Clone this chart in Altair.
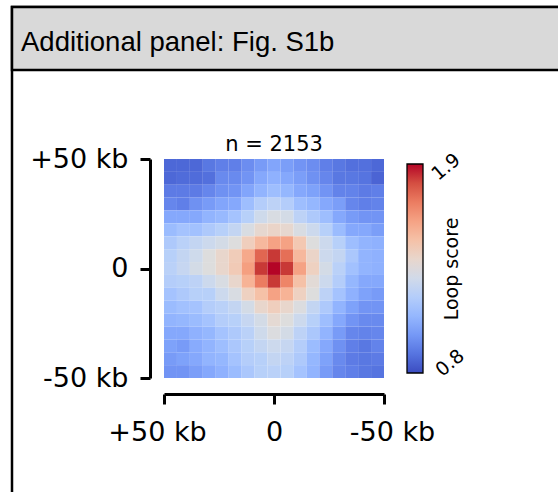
import altair as alt
import numpy as np
import pandas as pd

# Aggregate loop score around 2153 anchors, 17 x 17 bins.
# Rows run from +50 kb (top) to -50 kb (bottom); columns from +50 kb (left) to -50 kb (right).
row_00 = [0.87, 0.87, 0.87, 0.91, 0.93, 0.93, 0.97, 1.01, 1.04, 1.02, 0.99, 0.97, 0.93, 0.91, 0.89, 0.89, 0.87]
row_01 = [0.87, 0.88, 0.88, 0.89, 0.96, 0.96, 0.99, 1.05, 1.08, 1.05, 1.02, 0.98, 0.95, 0.91, 0.91, 0.90, 0.86]
row_02 = [0.92, 0.92, 0.92, 0.95, 0.98, 0.99, 1.04, 1.09, 1.13, 1.10, 1.05, 1.03, 0.99, 0.94, 0.94, 0.92, 0.93]
row_03 = [0.95, 0.93, 0.98, 1.01, 1.04, 1.05, 1.13, 1.20, 1.23, 1.20, 1.13, 1.10, 1.05, 1.02, 0.95, 0.93, 0.94]
row_04 = [1.05, 1.05, 1.05, 1.09, 1.11, 1.15, 1.21, 1.29, 1.33, 1.31, 1.23, 1.18, 1.13, 1.05, 1.01, 0.99, 0.99]
row_05 = [1.12, 1.15, 1.14, 1.18, 1.21, 1.25, 1.33, 1.39, 1.41, 1.39, 1.33, 1.28, 1.21, 1.12, 1.05, 1.05, 1.02]
row_06 = [1.18, 1.22, 1.25, 1.28, 1.31, 1.35, 1.44, 1.53, 1.60, 1.60, 1.47, 1.35, 1.28, 1.21, 1.13, 1.09, 1.08]
row_07 = [1.21, 1.25, 1.29, 1.35, 1.40, 1.45, 1.58, 1.75, 1.84, 1.73, 1.53, 1.41, 1.28, 1.25, 1.17, 1.09, 1.08]
row_08 = [1.22, 1.26, 1.31, 1.35, 1.40, 1.46, 1.61, 1.84, 1.90, 1.84, 1.60, 1.43, 1.31, 1.22, 1.14, 1.09, 1.08]
row_09 = [1.20, 1.21, 1.23, 1.28, 1.33, 1.40, 1.55, 1.70, 1.84, 1.68, 1.50, 1.37, 1.28, 1.20, 1.10, 1.05, 1.05]
row_10 = [1.15, 1.18, 1.21, 1.21, 1.28, 1.33, 1.43, 1.50, 1.60, 1.55, 1.43, 1.35, 1.23, 1.15, 1.08, 1.03, 1.01]
row_11 = [1.12, 1.14, 1.15, 1.20, 1.22, 1.25, 1.31, 1.40, 1.44, 1.40, 1.34, 1.25, 1.18, 1.09, 1.03, 0.99, 0.99]
row_12 = [1.09, 1.10, 1.12, 1.15, 1.20, 1.21, 1.26, 1.31, 1.38, 1.35, 1.28, 1.21, 1.13, 1.05, 0.99, 0.96, 0.96]
row_13 = [1.05, 1.05, 1.08, 1.10, 1.15, 1.18, 1.22, 1.29, 1.34, 1.31, 1.23, 1.17, 1.09, 1.01, 0.95, 0.94, 0.95]
row_14 = [1.03, 1.01, 1.06, 1.09, 1.13, 1.17, 1.21, 1.25, 1.28, 1.26, 1.20, 1.12, 1.05, 0.98, 0.93, 0.91, 0.94]
row_15 = [1.01, 1.03, 1.05, 1.09, 1.10, 1.15, 1.20, 1.21, 1.25, 1.23, 1.18, 1.10, 1.03, 0.96, 0.92, 0.91, 0.92]
row_16 = [0.99, 0.99, 1.02, 1.05, 1.08, 1.12, 1.17, 1.21, 1.22, 1.21, 1.15, 1.09, 1.01, 0.95, 0.93, 0.91, 0.90]
SCORES = [row_00, row_01, row_02, row_03, row_04, row_05, row_06, row_07, row_08,
          row_09, row_10, row_11, row_12, row_13, row_14, row_15, row_16]

N_LOOPS = 2153
SCORE_RANGE = [0.8, 1.9]
TICK_KB = [50, 0, -50]
TICK_TEXT = ["+50 kb", "0", "-50 kb"]
PANEL_LABEL = "Additional panel: Fig. S1b"
SCORE_LABEL = "Loop score"

# coolwarm colour ramp
COOLWARM = ["#3b4cc0", "#4d68d7", "#6282ea", "#779af7", "#8db0fe", "#a3c2fe",
            "#b8d0f9", "#ccd9ed", "#dddddd", "#ecd3c5", "#f5c4ac", "#f7b194",
            "#f49a7b", "#ec7f63", "#de604d", "#cb3e38", "#b40426"]

n = len(SCORES)
edges = np.linspace(50, -50, n + 1)
cells = []
for r, row in enumerate(SCORES):
    for c, v in enumerate(row):
        cells.append({"x": edges[c], "x2": edges[c + 1],
                      "y": edges[r], "y2": edges[r + 1], "score": v})
heat_df = pd.DataFrame(cells)

W, H = 220, 219
PAD = {"left": 164, "top": 159, "right": 558 - 164 - W, "bottom": 492 - 159 - H}

label_expr = " : ".join(
    f"datum.value == {v} ? '{t}'" for v, t in zip(TICK_KB[:-1], TICK_TEXT[:-1])
) + f" : '{TICK_TEXT[-1]}'"

axis_common = dict(
    values=TICK_KB, labelExpr=label_expr, title=None, grid=False, zindex=2,
    domainColor="black", domainWidth=3, tickColor="black", tickWidth=3, tickSize=10,
    labelFont="DejaVu Sans", labelFontSize=27, labelColor="black", labelFlush=False,
)

x_axis = alt.Axis(orient="bottom", offset=16, labelPadding=15, labelAngle=0,
                  labelOffset={"condition": [{"test": "datum.value > 0", "value": -7},
                                             {"test": "datum.value < 0", "value": 8}],
                               "value": 0},
                  **axis_common)
y_axis = alt.Axis(orient="left", offset=14, labelPadding=12, **axis_common)

color_scale = alt.Scale(domain=list(np.linspace(SCORE_RANGE[0], SCORE_RANGE[1], len(COOLWARM))),
                        range=COOLWARM, clamp=True)

# colour bar; its end labels are drawn rotated below
legend = alt.Legend(
    title=None, orient="none", legendX=243, legendY=5, direction="vertical",
    gradientLength=209, gradientThickness=16, gradientStrokeColor="black",
    gradientStrokeWidth=1.3, values=SCORE_RANGE, labelOpacity=0,
)

heat = alt.Chart(heat_df).mark_rect().encode(
    x=alt.X("x:Q", scale=alt.Scale(domain=[50, -50], nice=False, zero=False), axis=x_axis),
    x2="x2:Q",
    y=alt.Y("y:Q", scale=alt.Scale(domain=[-50, 50], nice=False, zero=False), axis=y_axis),
    y2="y2:Q",
    color=alt.Color("score:Q", scale=color_scale, legend=legend),
)

one_row = pd.DataFrame({"panel": [PANEL_LABEL], "score_label": [SCORE_LABEL],
                        "n_text": [f"n = {N_LOOPS}"],
                        "hi": [f"{SCORE_RANGE[1]:.1f}"], "lo": [f"{SCORE_RANGE[0]:.1f}"]})

# page frame and grey header strip
frame = alt.Chart(one_row).mark_rect(fill="white", stroke="black", strokeWidth=2.5).encode(
    x=alt.value(-152), x2=alt.value(W + PAD["right"] + 20),
    y=alt.value(-152), y2=alt.value(H + PAD["bottom"] + 20),
)
header = alt.Chart(one_row).mark_rect(fill="#d9d9d9", stroke="black", strokeWidth=2.5).encode(
    x=alt.value(-152), x2=alt.value(W + PAD["right"] + 20),
    y=alt.value(-152), y2=alt.value(-89),
)
header_text = alt.Chart(one_row).mark_text(
    font="Liberation Sans", fontSize=27.5, align="left", baseline="alphabetic", color="black"
).encode(x=alt.value(-143), y=alt.value(-108), text="panel:N")

n_text = alt.Chart(one_row).mark_text(
    font="DejaVu Sans", fontSize=21, align="center", baseline="alphabetic", color="black"
).encode(x=alt.value(W / 2), y=alt.value(-8), text="n_text:N")

score_text = alt.Chart(one_row).mark_text(
    font="DejaVu Sans", fontSize=19, angle=270, align="center", baseline="middle", color="black"
).encode(x=alt.value(288), y=alt.value(110), text="score_label:N")

bar_label = alt.Chart(one_row).mark_text(
    font="DejaVu Sans", fontSize=19, angle=320, align="center", baseline="middle", color="black"
)
hi_text = bar_label.encode(x=alt.value(282), y=alt.value(8), text="hi:N")
lo_text = bar_label.encode(x=alt.value(286), y=alt.value(204), text="lo:N")

chart = alt.layer(frame, header, header_text, n_text, heat, score_text, hi_text, lo_text).properties(
    width=W, height=H,
    autosize=alt.AutoSizeParams(type="none"),
    padding=PAD,
).configure_view(stroke="#222222", strokeWidth=1.2)

chart.save("out.html", embed_options={"renderer": "svg", "actions": False})
